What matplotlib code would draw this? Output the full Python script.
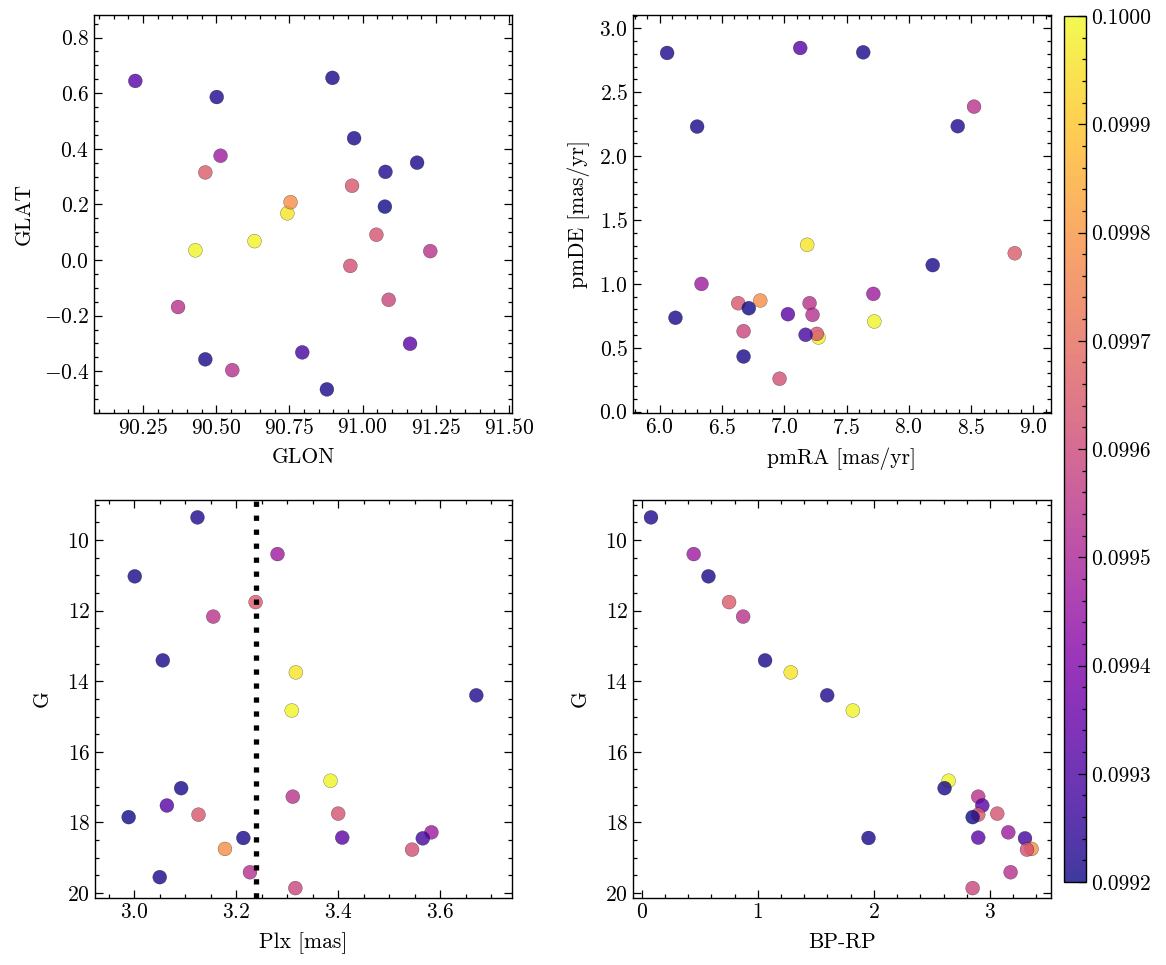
import matplotlib
matplotlib.use("Agg")
import matplotlib.pyplot as plt
import numpy as np
from matplotlib.ticker import AutoMinorLocator, MultipleLocator, FormatStrFormatter


# one entry per star, same order in every array
glon = [90.502, 90.515, 90.897, 90.463, 91.231, 90.971, 90.743, 91.078, 90.429,
        90.631, 91.186, 90.370, 90.224, 90.964, 91.076, 91.047, 90.463, 91.162,
        np.nan, 90.794, 90.754, 90.958, 90.555, 90.878, 91.089]
glat = [0.586, 0.375, 0.655, 0.315, 0.032, 0.438, 0.168, 0.317, 0.035,
        0.068, 0.350, -0.169, 0.644, 0.267, 0.192, 0.091, -0.357, -0.301,
        np.nan, -0.332, 0.208, -0.021, -0.396, -0.465, -0.143]
pmra = [6.059, 6.335, 7.634, 8.851, 8.524, 6.300, 7.184, 8.393, 7.275,
        7.723, 8.192, 7.203, 7.128, 6.630, 6.715, 7.262, 6.126, 7.029,
        7.715, 7.171, 6.807, 6.962, 7.227, 6.673, 6.673]
pmde = [2.807, 1.000, 2.812, 1.240, 2.387, 2.231, 1.306, 2.234, 0.581,
        0.706, 1.147, 0.849, 2.846, 0.849, 0.810, 0.609, 0.735, 0.763,
        0.922, 0.602, 0.870, 0.258, 0.758, 0.432, 0.630]
plx = [3.124, 3.281, 3.001, 3.238, 3.155, 3.056, 3.317, 3.671, 3.309,
       3.385, 3.092, 3.311, 3.064, 3.126, 2.989, 3.400, 3.214, 3.408,
       3.583, 3.566, 3.178, 3.545, 3.227, 3.050, 3.316]
gmag = [9.36, 10.40, 11.03, 11.76, 12.17, 13.41, 13.75, 14.40, 14.83,
        16.82, 17.03, 17.27, 17.52, 17.78, 17.85, 17.75, 18.44, 18.43,
        18.28, 18.45, 18.75, 18.77, 19.41, 19.55, 19.86]
bp_rp = [0.080, 0.448, 0.575, 0.753, 0.874, 1.063, 1.284, 1.598, 1.819,
         2.644, 2.609, 2.899, 2.934, 2.899, 2.851, 3.063, 1.954, 2.899,
         3.158, 3.302, 3.359, 3.319, 3.178, np.nan, 2.851]
prob = [0.09922, 0.09947, 0.09921, 0.09965, 0.09954, 0.09921, 0.09996, 0.09922, 0.09999,
        0.09999, 0.09921, 0.09954, 0.09932, 0.09964, 0.09920, 0.09963, 0.09921, 0.09933,
        0.09947, 0.09928, 0.09978, 0.09962, 0.09953, 0.09921, 0.09959]

plx_cut = 3.2385

plt.rcParams.update({
    "font.family": "serif",
    "font.serif": ["cmr10"],
    "mathtext.fontset": "cm",
    "axes.formatter.use_mathtext": True,
    "font.size": 15.5,
    "axes.linewidth": 1.0,
    "axes.labelpad": 7,
    "xtick.direction": "in",
    "ytick.direction": "in",
    "xtick.top": True,
    "ytick.right": True,
    "xtick.major.size": 5.5,
    "ytick.major.size": 5.5,
    "xtick.minor.size": 2.8,
    "ytick.minor.size": 2.8,
    "xtick.major.width": 0.9,
    "ytick.major.width": 0.9,
    "xtick.minor.width": 0.9,
    "ytick.minor.width": 0.9,
})

W, H = 1166, 965
fig = plt.figure(figsize=(W / 100, H / 100), dpi=100)


def rect(x0, x1, y0, y1):
    return [x0 / W, (H - y1) / H, (x1 - x0) / W, (y1 - y0) / H]


ax1 = fig.add_axes(rect(94, 512, 15, 413))
ax2 = fig.add_axes(rect(633, 1051, 15, 413))
ax3 = fig.add_axes(rect(95, 512, 500, 898))
ax4 = fig.add_axes(rect(633, 1051, 500, 898))

style = dict(c=prob, cmap="plasma", vmin=0.0992, vmax=0.1, alpha=0.8,
             s=100, edgecolors="k", linewidths=0.2)

sc = ax1.scatter(glon, glat, **style)
ax2.scatter(pmra, pmde, **style)
ax3.scatter(plx, gmag, **style)
ax4.scatter(bp_rp, gmag, **style)
ax3.axvline(plx_cut, color="k", ls=":", lw=3.8)

ax1.set_xlim(90.083, 91.51)
ax1.set_ylim(-0.550, 0.881)
ax1.xaxis.set_major_locator(MultipleLocator(0.25))
ax1.yaxis.set_major_locator(MultipleLocator(0.2))
ax1.set_xlabel("GLON")
ax1.set_ylabel("GLAT")

ax2.set_xlim(5.785, 9.142)
ax2.set_ylim(-0.01, 3.104)
ax2.xaxis.set_major_locator(MultipleLocator(0.5))
ax2.yaxis.set_major_locator(MultipleLocator(0.5))
ax2.set_xlabel("pmRA [mas/yr]")
ax2.set_ylabel("pmDE [mas/yr]")

ax3.set_xlim(2.923, 3.741)
ax3.set_ylim(20.14, 8.868)
ax3.xaxis.set_major_locator(MultipleLocator(0.2))
ax3.yaxis.set_major_locator(MultipleLocator(2))
ax3.set_xlabel("Plx [mas]")
ax3.set_ylabel("G", labelpad=11)

ax4.set_xlim(-0.075, 3.526)
ax4.set_ylim(20.14, 8.868)
ax4.xaxis.set_major_locator(MultipleLocator(1))
ax4.yaxis.set_major_locator(MultipleLocator(2))
ax4.set_xlabel("BP-RP")
ax4.set_ylabel("G", labelpad=11)

for ax in (ax1, ax2, ax3, ax4):
    ax.xaxis.set_minor_locator(AutoMinorLocator())
    ax.yaxis.set_minor_locator(AutoMinorLocator())
    ax.tick_params(which="both", top=True, right=True)

cax = fig.add_axes(rect(1064, 1086, 16, 882))
cb = fig.colorbar(sc, cax=cax)
cb.set_ticks(np.arange(0.0992, 0.10001, 0.0001))
cax.yaxis.set_major_formatter(FormatStrFormatter("%.4f"))
cax.yaxis.set_minor_locator(AutoMinorLocator())
cax.tick_params(which="both", direction="in")
cb.outline.set_linewidth(1.0)

fig.savefig("out.png", dpi=100)
